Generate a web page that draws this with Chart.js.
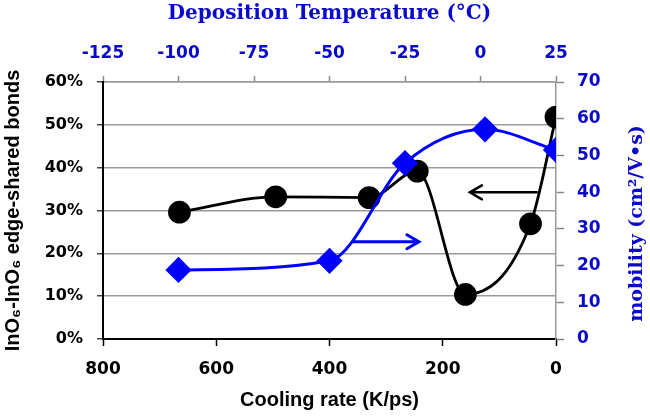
<!DOCTYPE html>
<html>
<head>
<meta charset="utf-8">
<script src="https://cdn.jsdelivr.net/npm/chart.js@4/dist/chart.umd.min.js"></script>
<style>
  body { margin: 0; background: #fff; }
  #chart { display: block; }
</style>
</head>
<body>
<canvas id="chart" width="650" height="416"></canvas>
<script>
// black series: edge-shared bonds vs cooling rate (bottom axis)
const coolingRate = [665, 495, 330, 245, 160, 45, 0];
const edgeShared = [29.6, 33.2, 33.0, 39.2, 10.4, 26.9, 51.8];
// blue series: mobility vs deposition temperature (top axis)
const depTemp = [-100, -50, -25, 1.5, 25];
const mobility = [18.8, 21.3, 47.9, 57.1, 51.5];

// arrows pointing to the axis each curve belongs to
const blackArrowX = [34, 152];   // cooling rate, tail -> head
const blackArrowY = 34.25;       // %
const blueArrowX = [-42, -20.4]; // deposition temp, tail -> head
const blueArrowY = 26.5;         // mobility

const BLUE_TXT = '#0a0ac8';
const BLUE = '#0000ff';
const tickFont = { family: 'DejaVu Sans', weight: 'bold', size: 17 };

const drawArrow = (ctx, x1, y1, x2, y2, color, width) => {
    const dir = Math.sign(x2 - x1);
    ctx.save();
    ctx.strokeStyle = color;
    ctx.lineWidth = width;
    ctx.lineCap = 'round';
    ctx.beginPath();
    ctx.moveTo(x1, y1);
    ctx.lineTo(x2, y2);
    ctx.moveTo(x2 - dir * 12, y2 - 7);
    ctx.lineTo(x2, y2);
    ctx.lineTo(x2 - dir * 12, y2 + 7);
    ctx.stroke();
    ctx.restore();
};

const extras = {
    id: 'extras',
    afterDatasetsDraw(chart) {
        const { ctx, scales } = chart;
        const by = scales.y.getPixelForValue(blackArrowY);
        drawArrow(ctx, scales.x.getPixelForValue(blackArrowX[0]), by,
                  scales.x.getPixelForValue(blackArrowX[1]), by, '#000', 2.5);
        const uy = scales.y2.getPixelForValue(blueArrowY);
        drawArrow(ctx, scales.x2.getPixelForValue(blueArrowX[0]), uy,
                  scales.x2.getPixelForValue(blueArrowX[1]), uy, BLUE, 3);

        // right axis title reads bottom-to-top
        const area = chart.chartArea;
        ctx.save();
        ctx.translate(chart.width - 13, (area.top + area.bottom) / 2 + 13);
        ctx.rotate(-Math.PI / 2);
        ctx.font = 'bold 19px "DejaVu Serif"';
        ctx.fillStyle = BLUE_TXT;
        ctx.textAlign = 'center';
        ctx.textBaseline = 'middle';
        ctx.fillText('mobility (cm\u00b2/V\u2022s)', 0, 0);
        ctx.restore();
    }
};

new Chart(document.getElementById('chart'), {
    type: 'scatter',
    data: {
        datasets: [{
            label: 'mobility',
            data: depTemp.map((t, i) => ({ x: t, y: mobility[i] })),
            xAxisID: 'x2',
            yAxisID: 'y2',
            showLine: true,
            cubicInterpolationMode: 'monotone',
            borderColor: BLUE,
            backgroundColor: BLUE,
            borderWidth: 3,
            pointStyle: 'rectRot',
            pointRadius: 11,
            order: 0
        }, {
            label: 'edge-shared bonds',
            data: coolingRate.map((c, i) => ({ x: c, y: edgeShared[i] })),
            xAxisID: 'x',
            yAxisID: 'y',
            showLine: true,
            cubicInterpolationMode: 'monotone',
            borderColor: '#000',
            backgroundColor: '#000',
            borderWidth: 2.8,
            pointStyle: 'circle',
            pointRadius: 10,
            order: 1
        }]
    },
    options: {
        responsive: false,
        animation: false,
        devicePixelRatio: 1,
        layout: { padding: 0 },
        plugins: { legend: { display: false }, tooltip: { enabled: false } },
        scales: {
            x: {
                type: 'linear', position: 'bottom', reverse: true,
                min: 0, max: 800,
                afterFit: s => { s.height = 77; },
                ticks: { stepSize: 200, color: '#000', font: tickFont, padding: 13 },
                grid: { drawOnChartArea: false, tickLength: 7, tickColor: '#000', tickWidth: 1.5 },
                border: { color: '#000', width: 2 },
                title: { display: true, text: 'Cooling rate (K/ps)', color: '#000',
                         font: { family: 'Liberation Sans', weight: 'bold', size: 20 },
                         padding: { top: 0, bottom: 4 } }
            },
            x2: {
                type: 'linear', position: 'top',
                min: -125, max: 25,
                afterFit: s => { s.height = 82; },
                ticks: { stepSize: 25, color: BLUE_TXT, font: tickFont, padding: 12 },
                grid: { drawOnChartArea: false, tickLength: 6, tickColor: '#888', tickWidth: 1.5 },
                border: { color: '#999', width: 1.5 },
                title: { display: true, text: 'Deposition Temperature (\u00b0C)', color: BLUE_TXT,
                         font: { family: 'DejaVu Serif', weight: 'bold', size: 20 },
                         padding: { top: 2, bottom: 0 } }
            },
            y: {
                type: 'linear', position: 'left',
                min: 0, max: 60,
                afterFit: s => { s.width = 103; },
                ticks: { stepSize: 10, color: '#000', font: { ...tickFont, size: 16 }, padding: 14,
                         callback: v => v + '%' },
                grid: { color: '#999', lineWidth: 1.5, tickLength: 6, tickColor: '#444' },
                border: { color: '#000', width: 2 },
                title: { display: true, text: 'InO\u2086-InO\u2086 edge-shared bonds', color: '#000',
                         font: { family: 'Liberation Sans', weight: 'bold', size: 20 },
                         padding: { top: 1, bottom: 0 } }
            },
            y2: {
                type: 'linear', position: 'right',
                min: 0, max: 70,
                afterFit: s => { s.width = 94; },
                ticks: { stepSize: 10, color: BLUE_TXT, font: tickFont, padding: 13 },
                grid: { drawOnChartArea: false, tickLength: 8, tickColor: '#888', tickWidth: 1.5 },
                border: { color: '#999', width: 1.5 }
            }
        }
    },
    plugins: [extras]
});
</script>
</body>
</html>
